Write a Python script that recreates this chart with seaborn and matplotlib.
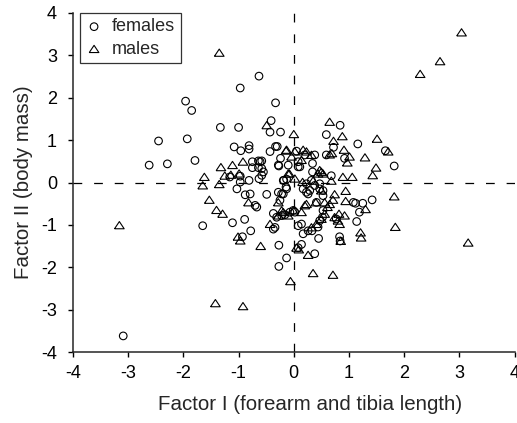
import pandas as pd
import matplotlib
matplotlib.use("Agg")
import matplotlib.pyplot as plt
import seaborn as sns

# factor scores (x = Factor I, y = Factor II)
females_x = [-3.09, -2.62, -2.45, -2.29, -1.96, -1.85, -1.93, -1.79,
             -0.97, -0.63, -1.33, -1.00, -0.33, -0.41, -0.43, -0.24,
             -1.08, -0.96, -0.81, -0.81, -0.75, -0.64, -0.75, -0.64,
             -0.58, -0.58, -0.58, -0.43, -0.33, -0.30, -0.24, -0.27, 0.05,
             -1.16, -0.81, -1.03, -0.88, -0.79, -0.70, -0.67,
             -0.97, -0.63, -0.97, -0.18, -0.13,
             -1.65, -1.11, -0.89, -0.78, -0.93, -0.49,
             -0.28, -0.22, -0.14, -0.19,
             -0.37, -0.31, -0.22, -0.16, -0.07, -0.01, 0.02,
             -0.37, -0.34, 0.08, -0.27, -0.13, -0.27,
             0.84, 0.59, 0.72, 0.59, 1.16, 1.66, 1.82, 0.92, 0.68,
             0.20, 0.38, 0.08, 0.11, 0.34, 0.34,
             1.42, 1.25, 1.19, 1.14, 1.08, 1.12,
             0.77, 0.83, 0.84, 0.53, 0.52,
             0.47, 0.44, 0.33, 0.26, 0.17, 0.14,
             0.45, 0.14, 0.08, 0.38,
             0.23, 0.29, 0.47, 0.53, 0.23,
             -0.28, -0.10, 0.08,
             -0.13, -0.19, -0.25,
             0.17, 0.26, 0.32, 0.38, 0.47, 0.53,
             0.41, -0.55, -0.61]
females_y = [-3.62, 0.41, 0.98, 0.44, 1.92, 1.70, 1.03, 0.52,
             2.23, 2.51, 1.30, 1.30, 1.88, 1.46, 1.19, 1.19,
             0.84, 0.75, 0.87, 0.79, 0.49, 0.51, 0.35, 0.35,
             0.51, 0.33, 0.17, 0.73, 0.85, 0.85, 0.57, 0.39, 0.74,
             0.13, 0.05, -0.15, -0.29, -0.27, -0.54, -0.58,
             0.15, 0.09, 0.01, 0.05, 0.08,
             -1.02, -0.95, -0.87, -1.14, -1.28, -0.28,
             -0.23, -0.27, -0.11, 0.05,
             -0.73, -0.82, -0.78, -0.76, -0.70, -0.66, -0.70,
             -1.10, -1.06, -1.02, -1.48, -1.78, -1.98,
             1.35, 1.13, 0.83, 0.65, 0.91, 0.75, 0.39, 0.57, 0.16,
             0.65, 0.65, 0.49, 0.37, 0.45, 0.25,
             -0.41, -0.49, -0.70, -0.92, -0.47, -0.49,
             -0.86, -1.28, -1.38, -0.66, -0.82,
             -0.90, -1.05, -1.14, -1.14, -1.21, -0.98,
             -1.32, -1.46, -1.54, -1.68,
             -0.03, -0.19, -0.03, -0.19, -0.23,
             0.41, 0.41, 0.37,
             -0.15, -0.27, -0.42,
             -0.15, -0.27, 0.05, -0.07, -0.15, -0.31,
             -0.47, 0.25, 0.49]

males_x = [-3.16, -1.35, 3.04, 2.65, 2.29, 3.16,
           -1.42, -0.92,
           -1.65, -1.35, -1.53, -1.40, -1.29, -1.62,
           -1.32, -1.11, -1.25, -1.14, -0.99, -0.92,
           -0.82, -1.01, -0.60, -0.06,
           -0.49, 0.00, -0.14, -0.04,
           -0.28, -0.28, -0.19, -0.10, -0.43, 0.05,
           0.65, 0.72, 0.88, 0.65, 0.69, 0.91,
           1.51, 1.71, 1.29, 1.01, 0.97,
           1.49, 1.43, 0.89, 1.06,
           -0.13, 0.02, 0.17, 0.23, 0.32,
           0.14, -0.08, 0.47, 0.53, 0.02,
           1.82, 1.84, 1.30, 0.94, 0.94,
           0.74, 0.71, 0.65, 0.82, 0.83, 0.80, 0.85,
           1.21, 1.22, 0.61,
           0.40, 0.23, 0.14, 0.41, 0.50, 0.32,
           0.09, 0.26, 0.35, 0.71,
           0.20, 0.56, 0.16, 0.35, 0.50, 0.68,
           -0.10, 0.50, 0.44,
           -0.22, -0.01, 0.56, 0.74, 0.92, -0.97]
males_y = [-1.01, 3.06, 3.54, 2.86, 2.56, -1.42,
           -2.85, -2.92,
           -0.07, -0.04, -0.41, -0.65, -0.74, 0.13,
           0.36, 0.41, 0.16, 0.18, 0.21, 0.49,
           -0.47, -1.28, -1.50, -2.33,
           1.35, 1.14, 0.75, 0.61,
           -0.47, -0.78, -0.70, -0.78, -0.98, -1.54,
           1.43, 0.98, 1.09, 0.66, 0.69, 0.77,
           1.03, 0.73, 0.59, 0.61, 0.47,
           0.35, 0.17, 0.13, 0.13,
           0.77, 0.73, 0.77, 0.73, 0.65,
           0.53, 0.21, 0.29, 0.21, 0.09,
           -0.33, -1.05, -0.63, -0.20, -0.44,
           -0.28, -0.41, -0.51, -0.74, -0.98, -0.90, -1.38,
           -1.18, -1.30, -0.58,
           -0.47, -0.51, -0.70, -0.98, -0.86, -1.06,
           -1.58, -1.71, -2.14, -2.18,
           -0.54, -0.47, 0.01, 0.04, -0.19, 0.04,
           0.21, 0.25, 0.21,
           -0.66, -0.66, -0.74, -0.82, -0.78, -1.37]

df_f = pd.DataFrame({"factor1": females_x, "factor2": females_y})
df_m = pd.DataFrame({"factor1": males_x, "factor2": males_y})

sns.set_style("ticks")
plt.rcParams["font.family"] = ["Liberation Sans", "DejaVu Sans"]
plt.rcParams["axes.unicode_minus"] = False

# flat open triangle like in the original figure
tri = [(-1, -0.72), (1, -0.72), (0, 0.78), (-1, -0.72)]

fig = plt.figure(figsize=(5.17, 4.23), dpi=100)
ax = fig.add_axes([0.1412, 0.1678, 0.854, 0.8015])

sns.scatterplot(data=df_f, x="factor1", y="factor2", marker="o", s=30,
                facecolor="none", edgecolor="black", linewidth=0.8,
                label="females", ax=ax)
sns.scatterplot(data=df_m, x="factor1", y="factor2", marker=tri, s=48,
                facecolor="none", edgecolor="black", linewidth=0.8,
                label="males", ax=ax)

ax.axhline(0, color="black", ls=(0, (7, 9.5)), lw=0.9, zorder=0)
ax.axvline(0, color="black", ls=(0, (7, 9.5)), lw=0.9, zorder=0)

ax.set_xlim(-4, 4)
ax.set_ylim(-4, 4)
ax.set_xticks(range(-4, 5))
ax.set_yticks(range(-4, 5))
ax.tick_params(labelsize=13, direction="out", length=3.5, width=1, colors="black")
ax.tick_params(axis="x", pad=6)
ax.tick_params(axis="y", pad=8)
sns.despine(ax=ax)
for sp in ("left", "bottom"):
    ax.spines[sp].set_linewidth(1.1)

ax.set_xlabel("Factor I (forearm and tibia length)", fontsize=14.8)
ax.xaxis.set_label_coords(0.537, -0.128)
ax.set_ylabel("Factor II (body mass)", fontsize=14.8, labelpad=6)

leg = ax.legend(loc="upper left", bbox_to_anchor=(0.015, 1.0), frameon=True,
                fancybox=False, edgecolor="black", fontsize=13,
                handletextpad=0.5, borderpad=0.3, labelspacing=0.3,
                handlelength=1.0, borderaxespad=0.0)
leg.get_frame().set_linewidth(0.9)

fig.savefig("out.png", dpi=100)
